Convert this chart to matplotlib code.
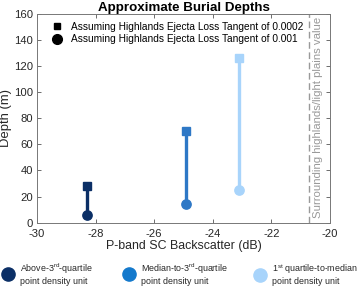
import numpy as np
import matplotlib
matplotlib.use('Agg')
import matplotlib.pyplot as plt
from matplotlib.lines import Line2D

plt.rcParams['font.family'] = ['Liberation Sans', 'DejaVu Sans']
plt.rcParams['mathtext.fontset'] = 'custom'
plt.rcParams['mathtext.rm'] = 'Liberation Sans'
plt.rcParams['axes.unicode_minus'] = False

# data
backscatter = [-28.3, -24.9, -23.1]
depth_lt0002 = [28, 70, 126]
depth_lt001 = [6, 14, 25]
colors = ['#0b2f66', '#2e78c6', '#a8d4fb']
legend_colors = ['#0b2f66', '#1479cc', '#a8d4fb']
unit_labels = ['Above-3$^{\\rm rd}$-quartile\npoint density unit',
               'Median-to-3$^{\\rm rd}$-quartile\npoint density unit',
               '1$^{\\rm st}$ quartile-to-median\npoint density unit']
highlands_value = -20.7

fig = plt.figure(figsize=(3.57, 2.88), dpi=100)
ax = fig.add_axes([0.104, 0.227, 0.820, 0.724])

for x, y1, y2, c in zip(backscatter, depth_lt0002, depth_lt001, colors):
    ax.plot([x, x], [y2, y1], color=c, lw=2.4, solid_capstyle='butt')
    ax.plot(x, y1, marker='s', ms=5.5, color=c, ls='none')
    ax.plot(x, y2, marker='o', ms=6.7, color=c, ls='none')

ax.axvline(highlands_value, color='#999999', ls=(0, (4.8, 2.6)), lw=1)
ax.text(highlands_value + 0.29, 81, 'Surrounding highlands/light plains value',
        rotation=90, ha='center', va='center', color='#999999', fontsize=8.2)

ax.set_xlim(-30, -20)
ax.set_ylim(0, 160)
ax.set_xticks(np.arange(-30, -19, 2))
ax.set_yticks(np.arange(0, 161, 20))
ax.tick_params(direction='in', top=True, right=True, labelsize=8.1,
               length=3, width=0.6, color='#555555', labelcolor='#262626', pad=3)
ax.tick_params(axis='x', pad=4.5)
for s in ax.spines.values():
    s.set_color('#777777')
    s.set_linewidth(0.7)
ax.set_xlabel('P-band SC Backscatter (dB)', fontsize=8.9, color='#262626', labelpad=1)
ax.set_ylabel('Depth (m)', fontsize=9.4, color='#262626', labelpad=1)
ax.set_title('Approximate Burial Depths', fontsize=9.6, fontweight='bold', pad=2)

h = [Line2D([], [], marker='s', color='k', ls='none', ms=5),
     Line2D([], [], marker='o', color='k', ls='none', ms=7)]
ax.legend(h, ['Assuming Highlands Ejecta Loss Tangent of 0.0002',
              'Assuming Highlands Ejecta Loss Tangent of 0.001'],
          loc='upper left', bbox_to_anchor=(0.051, 0.962), frameon=False,
          fontsize=7.3, handlelength=1.0, handletextpad=0.9, labelspacing=0.2,
          borderpad=0, borderaxespad=0)

# bottom legend, one block per unit
xs = [3.6, 124.6, 255.6]
for xl, c, lab in zip(xs, legend_colors, unit_labels):
    lg = fig.legend([Line2D([], [], marker='o', color=c, ls='none', ms=9.5)], [lab],
                    loc='lower left', bbox_to_anchor=(xl / 357, 2 / 288),
                    frameon=False, fontsize=6.4, handlelength=1.0,
                    handletextpad=0.85, borderpad=0, borderaxespad=0)
    for t in lg.get_texts():
        t.set_color('#262626')
        t.set_linespacing(1.1)

fig.savefig('out.png', dpi=100)
